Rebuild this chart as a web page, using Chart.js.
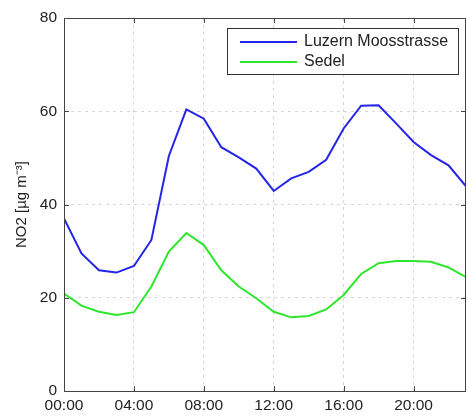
<!DOCTYPE html>
<html>
<head>
<meta charset="utf-8">
<script src="https://cdn.jsdelivr.net/npm/chart.js@4/dist/chart.umd.min.js"></script>
<style>
  body { margin: 0; background: #fff; overflow: hidden; }
</style>
</head>
<body>
<canvas id="myChart" width="467" height="417"></canvas>
<script>
const hours = [0, 1, 2, 3, 4, 5, 6, 7, 8, 9, 10, 11, 12, 13, 14, 15, 16, 17, 18, 19, 20, 21, 22, 23];
const luzern = [37.0, 29.5, 25.9, 25.4, 26.8, 32.4, 50.4, 60.4, 58.4, 52.3, 50.1, 47.7,
                42.9, 45.6, 47.0, 49.6, 56.3, 61.2, 61.3, 57.4, 53.4, 50.6, 48.4, 43.9];
const sedel = [20.9, 18.3, 17.0, 16.3, 16.9, 22.4, 29.9, 33.9, 31.3, 25.9, 22.4, 19.9,
               17.0, 15.8, 16.1, 17.5, 20.6, 25.1, 27.4, 27.9, 27.9, 27.7, 26.5, 24.4];
const seriesNames = ['Luzern Moosstrasse', 'Sedel'];
const xTicks = [0, 4, 8, 12, 16, 20];
const yTicks = [0, 20, 40, 60, 80];

const FONT = 'Liberation Sans, Arial, sans-serif';

// box around the plot, inward tick marks and legend, MATLAB style
const boxPlugin = {
    id: 'box',
    afterDatasetsDraw(chart) {
        const c = chart.ctx;
        const a = chart.chartArea;
        const xs = chart.scales.x, ys = chart.scales.y;
        c.save();
        c.strokeStyle = '#444';
        c.lineWidth = 1;
        c.strokeRect(Math.round(a.left) + 0.5, Math.round(a.top) + 0.5,
                     Math.round(a.right - a.left) - 1, Math.round(a.bottom - a.top));
        c.beginPath();
        xTicks.forEach(v => {
            const px = Math.round(xs.getPixelForValue(v)) + 0.5;
            c.moveTo(px, a.bottom); c.lineTo(px, a.bottom - 5);
            c.moveTo(px, a.top); c.lineTo(px, a.top + 5);
        });
        yTicks.forEach(v => {
            const py = Math.round(ys.getPixelForValue(v)) + 0.5;
            c.moveTo(a.left, py); c.lineTo(a.left + 5, py);
            c.moveTo(a.right, py); c.lineTo(a.right - 5, py);
        });
        c.stroke();

        // legend
        const lx = 227, ly = 28, lw = 231, lh = 46;
        c.fillStyle = '#fff';
        c.fillRect(lx, ly, lw, lh);
        c.strokeStyle = '#333';
        c.strokeRect(lx + 0.5, ly + 0.5, lw, lh);
        c.font = '16px ' + FONT;
        c.textBaseline = 'middle';
        chart.data.datasets.forEach((ds, i) => {
            const y = ly + 14 + i * 20;
            c.strokeStyle = ds.borderColor;
            c.lineWidth = 2;
            c.beginPath();
            c.moveTo(240, y); c.lineTo(297, y);
            c.stroke();
            c.fillStyle = '#222';
            c.fillText(ds.label, 304, y);
        });
        c.restore();
    }
};

const ctx = document.getElementById('myChart');
const myChart = new Chart(ctx, {
    type: 'line',
    data: {
        datasets: [{
                label: seriesNames[0],
                data: hours.map((h, i) => ({ x: h, y: luzern[i] })),
                borderColor: '#2424e8',
                borderWidth: 2,
                pointRadius: 0,
                tension: 0
            },
            {
                label: seriesNames[1],
                data: hours.map((h, i) => ({ x: h, y: sedel[i] })),
                borderColor: '#2ee62e',
                borderWidth: 2,
                pointRadius: 0,
                tension: 0
            }
        ]
    },
    options: {
        responsive: false,
        animation: false,
        layout: {
            padding: { top: 18, right: 1, left: 0, bottom: 0 }
        },
        plugins: {
            legend: { display: false },
            tooltip: { enabled: false }
        },
        scales: {
            x: {
                type: 'linear',
                min: 0,
                max: 23,
                afterBuildTicks: s => { s.ticks = xTicks.map(v => ({ value: v })); },
                afterFit: s => { s.height = 26; },
                grid: { color: '#d6d6d6', drawTicks: false },
                border: { display: false, dash: [3, 4] },
                ticks: {
                    color: '#222',
                    padding: 5,
                    maxRotation: 0,
                    font: { family: FONT, size: 15.5 },
                    callback: v => String(v).padStart(2, '0') + ':00'
                }
            },
            y: {
                min: 0,
                max: 80,
                afterBuildTicks: s => { s.ticks = yTicks.map(v => ({ value: v })); },
                afterFit: s => { s.width = 64; },
                grid: { color: '#d6d6d6', drawTicks: false },
                border: { display: false, dash: [3, 4] },
                ticks: {
                    color: '#222',
                    padding: 7,
                    font: { family: FONT, size: 15.5 }
                },
                title: {
                    display: true,
                    text: 'NO2 [µg m⁻³]',
                    color: '#222',
                    padding: { top: 13, bottom: 0 },
                    font: { family: FONT, size: 15 }
                }
            }
        }
    },
    plugins: [boxPlugin]
});
</script>
</body>
</html>
